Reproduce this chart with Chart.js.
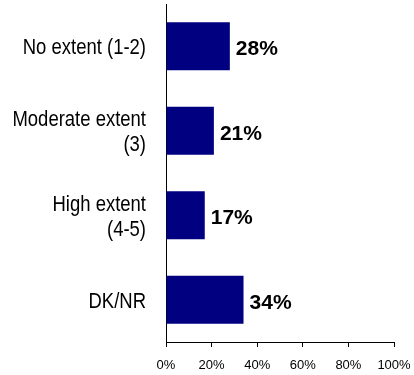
<!DOCTYPE html>
<html>
<head>
<meta charset="utf-8">
<script src="https://cdn.jsdelivr.net/npm/chart.js@4.4.1/dist/chart.umd.min.js"></script>
<style>
  html, body { margin: 0; padding: 0; background: #ffffff; }
  #wrap { width: 414px; height: 375px; position: relative; }
</style>
</head>
<body>
<div id="wrap"><canvas id="chart" width="414" height="375"></canvas></div>
<script>
// Categories (multi-line labels are arrays of lines)
const categories = [
  'No extent (1-2)',
  ['Moderate extent', '(3)'],
  ['High extent', '(4-5)'],
  'DK/NR'
];
// Share of respondents, in percent
const shares = [28, 21, 17, 34];
// Percent axis ticks
const tickValues = [0, 20, 40, 60, 80, 100];

const FONT = '"Liberation Sans", Arial, Helvetica, sans-serif';

// Writes each bar's value just past its end
const valueLabels = {
  id: 'valueLabels',
  afterDatasetsDraw(chart) {
    const ctx = chart.ctx;
    const meta = chart.getDatasetMeta(0);
    const data = chart.data.datasets[0].data;
    ctx.save();
    ctx.font = 'bold 21px ' + FONT;
    ctx.fillStyle = '#000000';
    ctx.textAlign = 'left';
    ctx.textBaseline = 'alphabetic';
    meta.data.forEach((bar, i) => {
      ctx.fillText(data[i] + '%', bar.x + 6, bar.y + 9);
    });
    ctx.restore();
  }
};

// Category names in a narrow face: the y axis ticks are laid out by the
// scale, then drawn here horizontally condensed and right-aligned.
const categoryLabels = {
  id: 'categoryLabels',
  afterDraw(chart) {
    const ctx = chart.ctx;
    const yScale = chart.scales.y;
    const right = yScale.right - 20;
    const lineGap = 25;
    ctx.save();
    ctx.font = '22px ' + FONT;
    ctx.fillStyle = '#000000';
    ctx.textAlign = 'right';
    ctx.textBaseline = 'alphabetic';
    chart.data.labels.forEach((label, i) => {
      const lines = Array.isArray(label) ? label : [label];
      const cy = yScale.getPixelForValue(i);
      const first = cy + 8 - (lines.length - 1) * lineGap / 2;
      lines.forEach((line, j) => {
        ctx.save();
        ctx.translate(right, first + j * lineGap);
        ctx.scale(0.84, 1);
        ctx.fillText(line, 0, 0);
        ctx.restore();
      });
    });
    ctx.restore();
  }
};

new Chart(document.getElementById('chart'), {
  type: 'bar',
  data: {
    labels: categories,
    datasets: [{
      data: shares,
      backgroundColor: '#000080',
      borderWidth: 0,
      categoryPercentage: 1,
      barPercentage: 0.57
    }]
  },
  options: {
    indexAxis: 'y',
    responsive: false,
    animation: false,
    events: [],
    layout: { padding: { top: 4, right: 20, left: 0, bottom: 0 } },
    plugins: {
      legend: { display: false },
      tooltip: { enabled: false }
    },
    scales: {
      x: {
        min: 0,
        max: 100,
        afterBuildTicks(axis) {
          axis.ticks = tickValues.map(v => ({ value: v }));
        },
        afterFit(axis) {
          axis.height = 33;
          axis.paddingLeft = 0;
          axis.paddingRight = 0;
        },
        grid: {
          display: true,
          drawOnChartArea: false,
          drawTicks: true,
          tickLength: 5,
          color: '#000000'
        },
        border: { display: true, color: '#000000', width: 1 },
        ticks: {
          color: '#000000',
          padding: 11,
          maxRotation: 0,
          font: { family: FONT, size: 13 },
          callback: v => v + '%'
        }
      },
      y: {
        afterFit(axis) {
          axis.width = 166;
          axis.paddingTop = 0;
          axis.paddingBottom = 0;
        },
        grid: { display: false, drawTicks: false },
        border: { display: true, color: '#000000', width: 1 },
        ticks: { display: false }
      }
    }
  },
  plugins: [valueLabels, categoryLabels]
});
</script>
</body>
</html>
